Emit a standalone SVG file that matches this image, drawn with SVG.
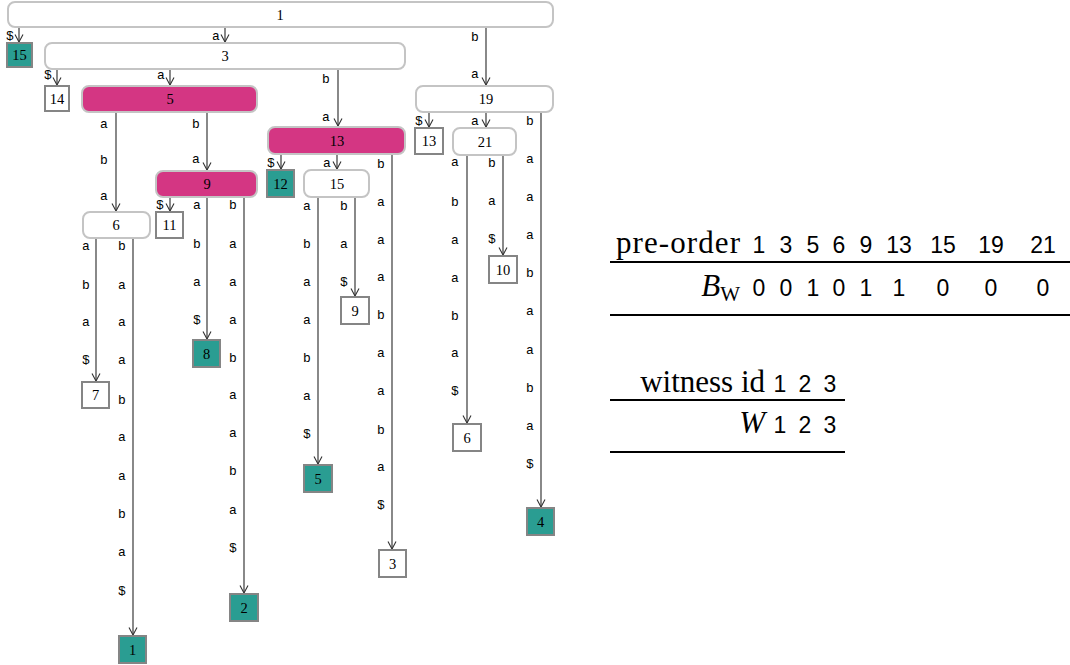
<svg xmlns="http://www.w3.org/2000/svg" width="1070" height="665" viewBox="0 0 1070 665">
<style>
.int{fill:#fff;stroke:#c4c4c4;stroke-width:2}
.pink{fill:#d43683;stroke:#c4c4c4;stroke-width:2}
.leaf{fill:#fff;stroke:#858585;stroke-width:2}
.teal{fill:#2a9d92;stroke:#858585;stroke-width:2}
.nl{font-family:"Liberation Serif",serif;font-size:14.5px;text-anchor:middle;dominant-baseline:central;fill:#000}
.el{font-family:"Liberation Mono",monospace;font-size:13px;text-anchor:middle;dominant-baseline:central;fill:#000}
.e{stroke:#3a3a3a;stroke-width:1.2;fill:none;marker-end:url(#arr)}
.tser{font-family:"Liberation Serif",serif;font-size:31px;fill:#000}
.tnum{font-family:"Liberation Sans",sans-serif;font-size:23px;fill:#000;text-anchor:middle}
.rule{stroke:#000;stroke-width:2}
</style>
<defs>
<marker id="arr" viewBox="0 0 10 10" refX="9.5" refY="5" markerWidth="10" markerHeight="10" markerUnits="userSpaceOnUse" orient="auto">
<path d="M2,1 L9.5,5 L2,9" fill="none" stroke="#333" stroke-width="1.1"/>
</marker>
</defs>
<g id="connectors">
<line class="e" x1="19" y1="27" x2="19" y2="42"/><text class="el" x="10" y="36">$</text>
<line class="e" x1="225" y1="27" x2="225" y2="42"/><text class="el" x="216" y="36">a</text>
<line class="e" x1="486" y1="27" x2="486" y2="85"/><text class="el" x="475" y="37">b</text><text class="el" x="475" y="74">a</text>
<line class="e" x1="57" y1="69" x2="57" y2="85"/><text class="el" x="48" y="75">$</text>
<line class="e" x1="170" y1="69" x2="170" y2="85"/><text class="el" x="161" y="75">a</text>
<line class="e" x1="338" y1="69" x2="338" y2="126"/><text class="el" x="326" y="79">b</text><text class="el" x="326" y="117">a</text>
<line class="e" x1="116" y1="112" x2="116" y2="211"/><text class="el" x="104" y="124">a</text><text class="el" x="104" y="160">b</text><text class="el" x="104" y="196">a</text>
<line class="e" x1="207" y1="112" x2="207" y2="170"/><text class="el" x="196" y="124">b</text><text class="el" x="196" y="159">a</text>
<line class="e" x1="170" y1="197" x2="170" y2="211"/><text class="el" x="160" y="205">$</text>
<line class="e" x1="207" y1="197" x2="207" y2="339"/><text class="el" x="197" y="205">a</text><text class="el" x="197" y="244">b</text><text class="el" x="197" y="282">a</text><text class="el" x="197" y="320">$</text>
<line class="e" x1="244" y1="197" x2="244" y2="593"/><text class="el" x="233" y="205">b</text><text class="el" x="233" y="244">a</text><text class="el" x="233" y="282">a</text><text class="el" x="233" y="320">a</text><text class="el" x="233" y="358">b</text><text class="el" x="233" y="395">a</text><text class="el" x="233" y="433">a</text><text class="el" x="233" y="471">b</text><text class="el" x="233" y="510">a</text><text class="el" x="233" y="548">$</text>
<line class="e" x1="96" y1="239" x2="96" y2="381"/><text class="el" x="86" y="246">a</text><text class="el" x="86" y="285">b</text><text class="el" x="86" y="322">a</text><text class="el" x="86" y="360">$</text>
<line class="e" x1="133" y1="239" x2="133" y2="635"/><text class="el" x="122" y="246">b</text><text class="el" x="122" y="285">a</text><text class="el" x="122" y="322">a</text><text class="el" x="122" y="360">a</text><text class="el" x="122" y="400">b</text><text class="el" x="122" y="437">a</text><text class="el" x="122" y="476">a</text><text class="el" x="122" y="514">b</text><text class="el" x="122" y="552">a</text><text class="el" x="122" y="591">$</text>
<line class="e" x1="281" y1="154" x2="281" y2="169"/><text class="el" x="271" y="163">$</text>
<line class="e" x1="337" y1="154" x2="337" y2="169"/><text class="el" x="327" y="163">a</text>
<line class="e" x1="392" y1="154" x2="392" y2="549"/><text class="el" x="381" y="164">b</text><text class="el" x="381" y="202">a</text><text class="el" x="381" y="240">a</text><text class="el" x="381" y="277">a</text><text class="el" x="381" y="315">b</text><text class="el" x="381" y="353">a</text><text class="el" x="381" y="391">a</text><text class="el" x="381" y="430">b</text><text class="el" x="381" y="467">a</text><text class="el" x="381" y="505">$</text>
<line class="e" x1="318" y1="197" x2="318" y2="464"/><text class="el" x="307" y="206">a</text><text class="el" x="307" y="244">b</text><text class="el" x="307" y="282">a</text><text class="el" x="307" y="320">a</text><text class="el" x="307" y="358">b</text><text class="el" x="307" y="396">a</text><text class="el" x="307" y="434">$</text>
<line class="e" x1="355" y1="197" x2="355" y2="296"/><text class="el" x="344" y="206">b</text><text class="el" x="344" y="244">a</text><text class="el" x="344" y="282">$</text>
<line class="e" x1="429" y1="112" x2="429" y2="127"/><text class="el" x="419" y="121">$</text>
<line class="e" x1="486" y1="112" x2="486" y2="127"/><text class="el" x="475" y="121">a</text>
<line class="e" x1="541" y1="112" x2="541" y2="507"/><text class="el" x="530" y="121">b</text><text class="el" x="530" y="159">a</text><text class="el" x="530" y="197">a</text><text class="el" x="530" y="235">a</text><text class="el" x="530" y="273">b</text><text class="el" x="530" y="311">a</text><text class="el" x="530" y="350">a</text><text class="el" x="530" y="388">b</text><text class="el" x="530" y="426">a</text><text class="el" x="530" y="464">$</text>
<line class="e" x1="467" y1="155" x2="467" y2="423"/><text class="el" x="455" y="162">a</text><text class="el" x="455" y="202">b</text><text class="el" x="455" y="240">a</text><text class="el" x="455" y="278">a</text><text class="el" x="455" y="316">b</text><text class="el" x="455" y="353">a</text><text class="el" x="455" y="391">$</text>
<line class="e" x1="503" y1="155" x2="503" y2="255"/><text class="el" x="492" y="163">b</text><text class="el" x="492" y="201">a</text><text class="el" x="492" y="239">$</text>
</g>
<g id="n1"><rect class="int" x="8" y="2" width="545" height="25" rx="7"/><text class="nl" x="280" y="14.5">1</text></g>
<g id="l15"><rect class="teal" x="7" y="43" width="25" height="24"/><text class="nl" x="19.5" y="55">15</text></g>
<g id="n3"><rect class="int" x="45" y="43" width="360" height="26" rx="7"/><text class="nl" x="225" y="56">3</text></g>
<g id="l14"><rect class="leaf" x="45" y="86" width="24" height="25"/><text class="nl" x="57" y="98.5">14</text></g>
<g id="n5"><rect class="pink" x="82" y="86" width="175" height="26" rx="7"/><text class="nl" x="170" y="99">5</text></g>
<g id="n19"><rect class="int" x="416" y="86" width="137" height="26" rx="7"/><text class="nl" x="486" y="99">19</text></g>
<g id="n13"><rect class="pink" x="268" y="127" width="137" height="27" rx="7"/><text class="nl" x="337" y="140.5">13</text></g>
<g id="l13"><rect class="leaf" x="415" y="128" width="28" height="26"/><text class="nl" x="429" y="141">13</text></g>
<g id="n21"><rect class="int" x="453" y="128" width="63" height="27" rx="7"/><text class="nl" x="485" y="141.5">21</text></g>
<g id="n9"><rect class="pink" x="156" y="171" width="101" height="26" rx="7"/><text class="nl" x="207" y="184">9</text></g>
<g id="l12"><rect class="teal" x="267" y="170" width="27" height="27"/><text class="nl" x="280.5" y="183.5">12</text></g>
<g id="n15"><rect class="int" x="304" y="170" width="65" height="27" rx="7"/><text class="nl" x="337" y="183.5">15</text></g>
<g id="n6"><rect class="int" x="83" y="212" width="67" height="26" rx="7"/><text class="nl" x="116" y="225">6</text></g>
<g id="l11"><rect class="leaf" x="156" y="212" width="27" height="26"/><text class="nl" x="169.5" y="225">11</text></g>
<g id="l10"><rect class="leaf" x="489" y="256" width="28" height="27"/><text class="nl" x="503" y="269.5">10</text></g>
<g id="l9"><rect class="leaf" x="341" y="297" width="28" height="27"/><text class="nl" x="355" y="310.5">9</text></g>
<g id="l8"><rect class="teal" x="193" y="340" width="27" height="27"/><text class="nl" x="206.5" y="353.5">8</text></g>
<g id="l7"><rect class="leaf" x="82" y="382" width="27" height="26"/><text class="nl" x="95.5" y="395">7</text></g>
<g id="l6"><rect class="leaf" x="453" y="424" width="28" height="27"/><text class="nl" x="467" y="437.5">6</text></g>
<g id="l5"><rect class="teal" x="304" y="465" width="28" height="27"/><text class="nl" x="318" y="478.5">5</text></g>
<g id="l4"><rect class="teal" x="527" y="508" width="27" height="27"/><text class="nl" x="540.5" y="521.5">4</text></g>
<g id="l3"><rect class="leaf" x="379" y="550" width="27" height="27"/><text class="nl" x="392.5" y="563.5">3</text></g>
<g id="l2"><rect class="teal" x="230" y="594" width="28" height="27"/><text class="nl" x="244" y="607.5">2</text></g>
<g id="l1"><rect class="teal" x="119" y="636" width="27" height="27"/><text class="nl" x="132.5" y="649.5">1</text></g>
<g id="table-bw">
<text class="tser" x="740" y="253" text-anchor="end" textLength="124" lengthAdjust="spacing">pre-order</text>
<text class="tnum" x="759" y="253">1</text><text class="tnum" x="786" y="253">3</text><text class="tnum" x="813" y="253">5</text><text class="tnum" x="839" y="253">6</text><text class="tnum" x="866" y="253">9</text><text class="tnum" x="899" y="253">13</text><text class="tnum" x="943" y="253">15</text><text class="tnum" x="991" y="253">19</text><text class="tnum" x="1043" y="253">21</text>
<line class="rule" x1="610" y1="262" x2="1070" y2="262"/>
<text class="tser" x="740" y="296" text-anchor="end"><tspan font-style="italic">B</tspan><tspan font-size="21" dy="5">W</tspan></text>
<text class="tnum" x="759" y="296">0</text><text class="tnum" x="786" y="296">0</text><text class="tnum" x="813" y="296">1</text><text class="tnum" x="839" y="296">0</text><text class="tnum" x="866" y="296">1</text><text class="tnum" x="899" y="296">1</text><text class="tnum" x="943" y="296">0</text><text class="tnum" x="991" y="296">0</text><text class="tnum" x="1043" y="296">0</text>
<line class="rule" x1="610" y1="315" x2="1070" y2="315"/>
</g>
<g id="table-w">
<text class="tser" x="765" y="392" text-anchor="end">witness id</text>
<text class="tnum" x="780" y="392">1</text><text class="tnum" x="805" y="392">2</text><text class="tnum" x="830" y="392">3</text>
<line class="rule" x1="610" y1="400" x2="845" y2="400"/>
<text class="tser" x="765" y="433" text-anchor="end" font-style="italic">W</text>
<text class="tnum" x="780" y="433">1</text><text class="tnum" x="805" y="433">2</text><text class="tnum" x="830" y="433">3</text>
<line class="rule" x1="610" y1="452" x2="845" y2="452"/>
</g>
</svg>
